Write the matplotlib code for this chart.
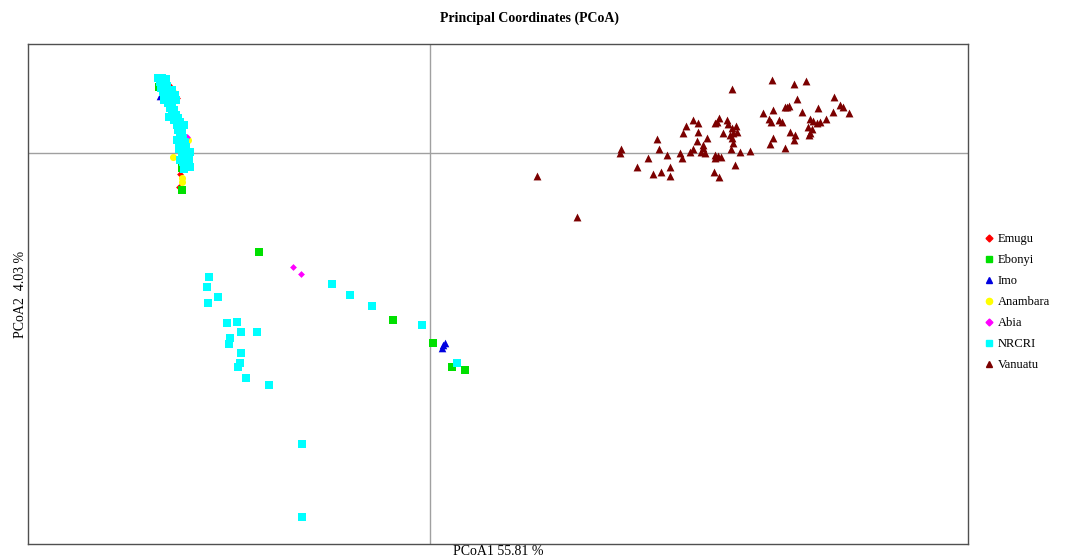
import matplotlib
matplotlib.use("Agg")
import matplotlib.pyplot as plt
from matplotlib.lines import Line2D

plt.rcParams['font.family'] = ['Liberation Serif', 'DejaVu Serif']

groups = ["Emugu", "Ebonyi", "Imo", "Anambara", "Abia", "NRCRI", "Vanuatu"]
colors = ["#FF0000", "#00E000", "#0000E0", "#FFFF00", "#FF00FF", "#00FFFF", "#7B0000"]
markers = ["D", "s", "^", "o", "D", "s", "^"]
sizes = [12, 26, 30, 26, 12, 28, 32]

emugu_x = [-2.61, -2.53, -2.50, -2.51]
emugu_y = [0.68, 0.55, -0.21, -0.34]

ebonyi_x = [-1.71, -0.37, 0.03, 0.22, 0.35, -2.71, -2.48, -2.48]
ebonyi_y = [-0.99, -1.67, -1.90, -2.14, -2.17, 0.66, -0.15, -0.37]

imo_x = [0.13, 0.15, 0.12, -2.70, -2.60]
imo_y = [-1.92, -1.90, -1.95, 0.57, 0.41]

anambara_x = [-2.57, -2.42, -2.57, -2.48, -2.48]
anambara_y = [0.61, 0.13, -0.04, -0.25, -0.29]

abia_x = [-1.37, -1.29, -2.43]
abia_y = [-1.14, -1.21, 0.16]

nrcri_x = [-2.72, -2.68, -2.64, -2.70, -2.66, -2.63, -2.69, -2.65, -2.67, -2.62,
           -2.64, -2.60, -2.66, -2.62, -2.58, -2.60, -2.56, -2.58, -2.54, -2.52,
           -2.56, -2.50, -2.53, -2.49, -2.52, -2.48, -2.50, -2.47, -2.53, -2.45,
           -2.49, -2.44, -2.51, -2.46, -2.42, -2.48, -2.44, -2.41, -2.47, -2.43,
           -2.40, -2.46, -2.58, -2.55, -2.54, -2.61, -2.46, -2.51, -2.40, -2.50,
           -2.21, -2.23, -2.12, -2.22, -2.03, -1.93, -1.89, -1.73, -2.00, -2.01,
           -1.89, -1.90, -1.92, -1.84, -1.61, -0.98, -0.80, -0.58, -0.08, 0.27,
           -1.28, -1.28]
nrcri_y = [0.75, 0.75, 0.74, 0.71, 0.69, 0.67, 0.65, 0.63, 0.61, 0.59,
           0.56, 0.54, 0.53, 0.50, 0.48, 0.45, 0.43, 0.40, 0.38, 0.35,
           0.33, 0.31, 0.28, 0.26, 0.23, 0.21, 0.18, 0.15, 0.13, 0.11,
           0.08, 0.06, 0.04, 0.02, 0.00, -0.03, -0.05, -0.07, -0.09, -0.11,
           -0.14, -0.16, 0.63, 0.58, 0.53, 0.36, 0.28, 0.11, 0.01, -0.07,
           -1.24, -1.34, -1.44, -1.50, -1.70, -1.69, -1.79, -1.79, -1.85, -1.91,
           -2.00, -2.10, -2.14, -2.25, -2.32, -1.31, -1.42, -1.53, -1.72, -2.10,
           -2.91, -3.64]

vanuatu_x = [3.42, 3.64, 3.76, 3.02, 4.04, 3.67, 4.10, 4.13, 4.19, 3.88,
             4.03, 3.72, 3.55, 3.59, 3.57, 3.43, 3.33, 3.39, 3.41, 3.49,
             3.52, 3.80, 3.83, 3.90, 3.96, 3.87, 3.78, 3.82, 3.80, 3.79,
             3.60, 3.65, 3.64, 3.43, 3.40, 3.55, 2.63, 2.68, 2.56, 2.53,
             2.68, 2.85, 2.89, 2.87, 2.97, 2.98, 3.06, 3.02, 3.07, 3.00,
             3.03, 2.93, 2.77, 2.67, 2.73, 2.73, 2.63, 2.60, 2.71, 2.75,
             2.50, 2.52, 2.37, 2.29, 2.27, 3.02, 3.03, 3.01, 3.10, 3.20,
             2.85, 2.88, 2.91, 2.85, 1.91, 1.90, 2.18, 2.07, 2.23, 2.31,
             2.40, 2.40, 2.84, 2.89, 3.05, 1.07, 1.47]
vanuatu_y = [0.73, 0.69, 0.72, 0.64, 0.56, 0.54, 0.48, 0.46, 0.40, 0.45,
             0.41, 0.41, 0.46, 0.47, 0.46, 0.43, 0.40, 0.34, 0.31, 0.33,
             0.31, 0.34, 0.32, 0.31, 0.34, 0.30, 0.26, 0.24, 0.20, 0.18,
             0.21, 0.18, 0.13, 0.15, 0.09, 0.05, 0.33, 0.30, 0.27, 0.20,
             0.21, 0.30, 0.35, 0.31, 0.33, 0.29, 0.27, 0.25, 0.21, 0.18,
             0.20, 0.20, 0.15, 0.12, 0.08, 0.05, 0.04, 0.01, 0.01, 0.00,
             0.00, -0.05, -0.02, 0.04, 0.14, 0.15, 0.10, 0.04, 0.01, 0.02,
             -0.02, -0.03, -0.04, -0.05, 0.04, 0.00, -0.05, -0.14, -0.21, -0.19,
             -0.14, -0.23, -0.19, -0.24, -0.12, -0.23, -0.64]

xs = [emugu_x, ebonyi_x, imo_x, anambara_x, abia_x, nrcri_x, vanuatu_x]
ys = [emugu_y, ebonyi_y, imo_y, anambara_y, abia_y, nrcri_y, vanuatu_y]

fig = plt.figure(figsize=(10.68, 5.59), dpi=100)
ax = fig.add_axes([28/1068, 1 - 544/559, 940/1068, 500/559])

ax.axvline(0, color="#A0A0A0", lw=1.0, zorder=1)
ax.axhline(0, color="#A0A0A0", lw=1.0, zorder=1)

for name, x, y, c, m, s in zip(groups, xs, ys, colors, markers, sizes):
    ax.scatter(x, y, c=c, marker=m, s=s, linewidths=0, zorder=3)

ax.set_xlim(-4.02, 5.38)
ax.set_ylim(-3.91, 1.09)
ax.set_xticks([])
ax.set_yticks([])
for sp in ax.spines.values():
    sp.set_color("#505050")
    sp.set_linewidth(1.0)

fig.suptitle("Principal Coordinates (PCoA)", x=529/1068, y=1 - 18/559, va="center",
             fontsize=10, fontweight="bold")
ax.set_xlabel("PCoA1 55.81 %", fontsize=10, labelpad=1)
ax.set_ylabel("PCoA2  4.03 %", fontsize=10, labelpad=1)

handles = [Line2D([], [], linestyle="none", marker=m, color=c, markersize=3.5 if m == "D" else 4.5)
           for c, m in zip(colors, markers)]
fig.legend(handles, groups, loc="upper left", bbox_to_anchor=(980/1068, 1 - 227/559),
           frameon=False, fontsize=9, handlelength=0.5, handletextpad=0.4,
           labelspacing=0.72, borderpad=0)

fig.savefig("out.png", dpi=100)
